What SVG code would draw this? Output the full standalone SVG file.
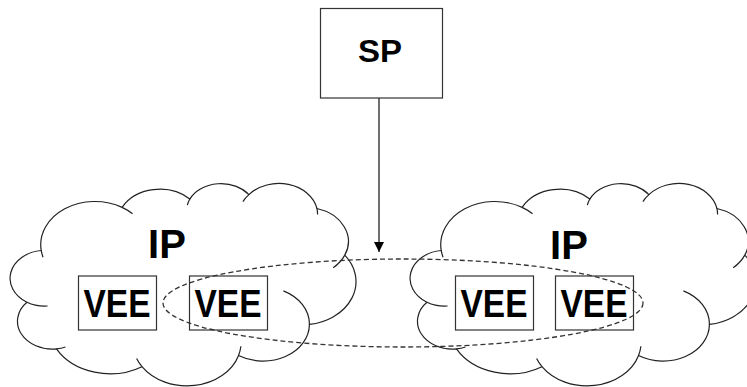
<svg xmlns="http://www.w3.org/2000/svg" xmlns:xlink="http://www.w3.org/1999/xlink" width="747" height="387" viewBox="0 0 747 387">
  <style>
    .cloud-body { fill: #ffffff; stroke: #222222; stroke-width: 1.2; vector-effect: non-scaling-stroke; }
    .cloud-inner { fill: none; stroke: #222222; stroke-width: 1.2; vector-effect: non-scaling-stroke; }
    .box { fill: #ffffff; stroke: #333333; stroke-width: 1.2; }
    .lbl { font-family: "Liberation Sans", Arial, sans-serif; font-weight: bold; fill: #000000; text-anchor: middle; }
    .vee { font-size: 39px; }
    .ip { font-size: 40px; }
    .sp { font-size: 32px; }
    .group-ellipse { fill: none; stroke: #333333; stroke-width: 1.3; stroke-dasharray: 5 3; }
    .arrow { stroke: #222222; stroke-width: 1.3; fill: none; }
  </style>
  <defs>
    <g id="cloud">
      <path class="cloud-body" d="M3900,14370 A6753,9190 0 0 1 14000,5192 A5333,7267 0 0 1 22451,3421 A4365,5945 0 0 1 29828,2470 A4857,6595 0 0 1 38324,5426 A5333,7273 0 0 1 41798,15354 A6775,9220 0 0 1 37384,30097 A5785,7867 0 0 1 28536,36707 A6752,9215 0 0 1 16478,39090 A7720,10543 0 0 1 5802,35296 A4360,5918 0 0 1 2111,25374 A4345,5945 0 0 1 3900,14370 Z"/>
      <path class="cloud-inner" d="M4693,26177 A4345,5945 0 0 1 2111,25374 M6928,34899 A4360,5918 0 0 1 5802,35296 M16478,39090 A6752,9215 0 0 1 15809,37347 M28827,34751 A6752,9215 0 0 1 28536,36707 M34129,22954 A5785,7867 0 0 1 37384,30097 M41798,15354 A5333,7273 0 0 1 40351,18029 M38324,5426 A4857,6595 0 0 1 38400,6690 M29078,3952 A4857,6595 0 0 1 29828,2470 M22141,4720 A4365,5945 0 0 1 22451,3421 M14000,5192 A6753,9190 0 0 1 15299,6539 M4127,15789 A6753,9190 0 0 1 3900,14370"/>
    </g>
    <marker id="arrowhead" viewBox="0 0 10 10" refX="10" refY="5" markerWidth="10" markerHeight="10" markerUnits="userSpaceOnUse" orient="auto">
      <path d="M0,0 L10,5 L0,10 Z" fill="#000000"/>
    </marker>
  </defs>

  <g id="ip-left">
    <use xlink:href="#cloud" href="#cloud" transform="translate(10,183) scale(0.0080093,0.0046991)"/>
    <text class="lbl ip" x="167" y="258">IP</text>
  </g>
  <g id="ip-right">
    <use xlink:href="#cloud" href="#cloud" transform="translate(410,183) scale(0.0080093,0.0046991)"/>
    <text class="lbl ip" x="569" y="259">IP</text>
  </g>

  <g id="vee-1">
    <rect class="box" x="78.5" y="276" width="78" height="54"/>
    <text class="lbl vee" x="117" y="316.5" textLength="67" lengthAdjust="spacingAndGlyphs">VEE</text>
  </g>
  <g id="vee-2">
    <rect class="box" x="189.5" y="276" width="78" height="54"/>
    <text class="lbl vee" x="228" y="316.5" textLength="67" lengthAdjust="spacingAndGlyphs">VEE</text>
  </g>
  <g id="vee-3">
    <rect class="box" x="455.5" y="276" width="78" height="54"/>
    <text class="lbl vee" x="494" y="316.5" textLength="67" lengthAdjust="spacingAndGlyphs">VEE</text>
  </g>
  <g id="vee-4">
    <rect class="box" x="555.5" y="276" width="78" height="54"/>
    <text class="lbl vee" x="594" y="316.5" textLength="67" lengthAdjust="spacingAndGlyphs">VEE</text>
  </g>

  <g id="sp">
    <rect class="box" x="320.5" y="8.5" width="122" height="89.5"/>
    <text class="lbl sp" x="380" y="62" textLength="44" lengthAdjust="spacingAndGlyphs">SP</text>
  </g>

  <g id="connectors">
    <ellipse class="group-ellipse" cx="403" cy="303" rx="240" ry="44"/>
    <line class="arrow" x1="379" y1="98" x2="379" y2="252" marker-end="url(#arrowhead)"/>
  </g>
</svg>
